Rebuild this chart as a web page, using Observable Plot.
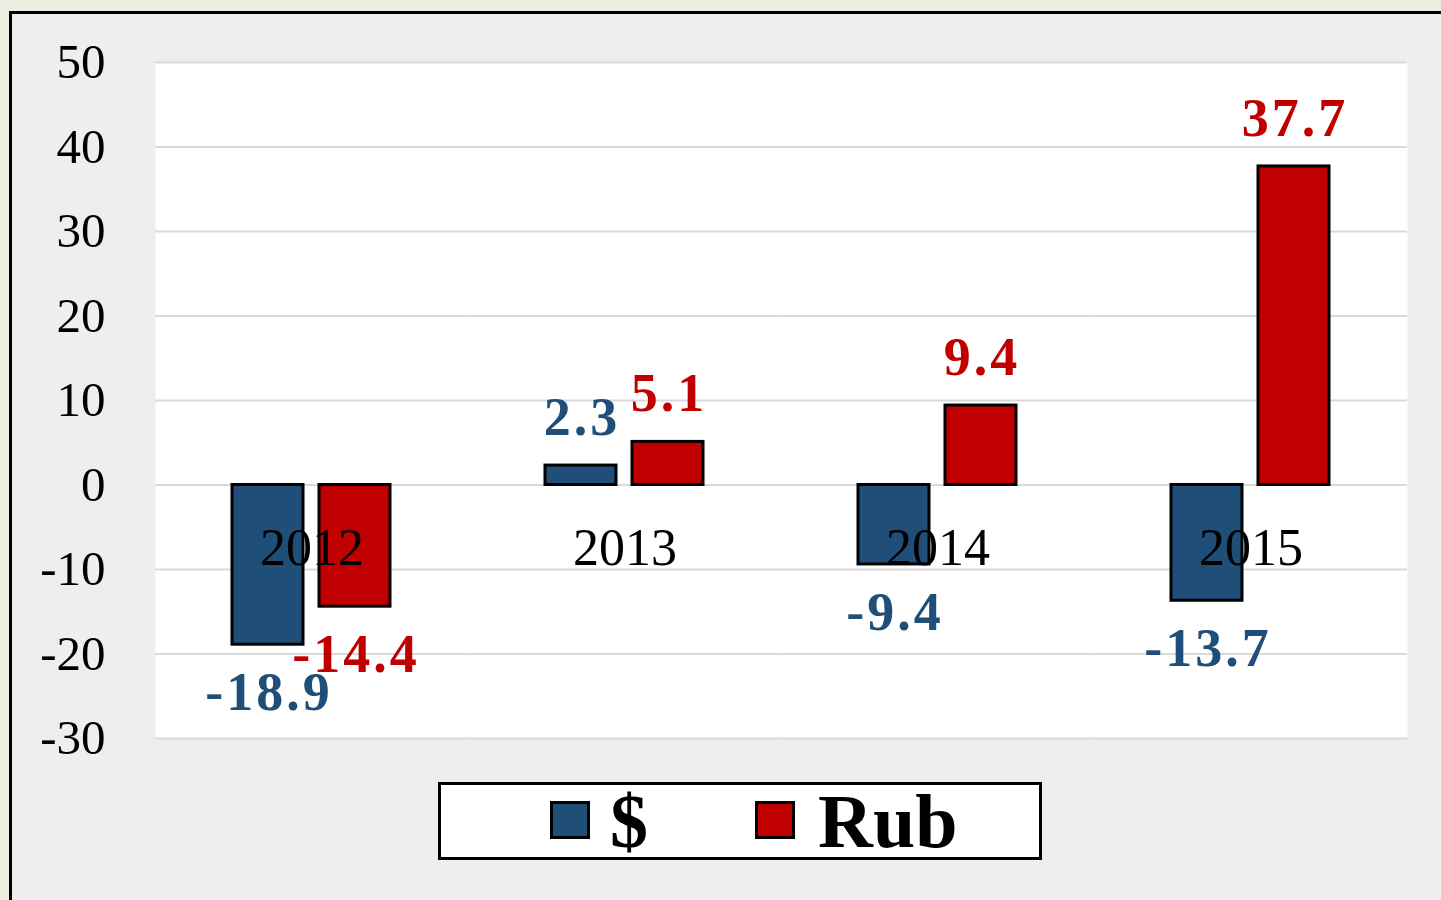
<!DOCTYPE html>
<html>
<head>
<meta charset="utf-8">
<script src="https://cdn.jsdelivr.net/npm/d3@7"></script>
<script src="https://cdn.jsdelivr.net/npm/@observablehq/plot@0.6"></script>
<style>
  html, body { margin: 0; padding: 0; width: 1441px; height: 900px; overflow: hidden; background: #EBEEDF; }
  #frame { position: absolute; left: 9px; top: 11px; width: 1450px; height: 900px; border: 3px solid #000; background: #EEEEEF; box-sizing: border-box; }
  #chart { position: absolute; left: 0; top: 0; }
  #chart g[font-weight="bold"] text { letter-spacing: 3px; }
  #legend { position: absolute; left: 438px; top: 782px; width: 604px; height: 78px; box-sizing: border-box; border: 3px solid #000; background: #fff; font-family: "Liberation Serif", "Times New Roman", serif; font-weight: bold; font-size: 76px; line-height: 1; }
  .sw { position: absolute; top: 16px; width: 40px; height: 38px; box-sizing: border-box; border: 3px solid #000; }
  .lb { position: absolute; top: 0px; line-height: 72px; }
</style>
</head>
<body>
<div id="frame"></div>
<div id="chart"></div>
<div id="legend"></div>
<script>
const years = ["2012", "2013", "2014", "2015"];
const series = ["$", "Rub"];
const usdValues = [-18.9, 2.3, -9.4, -13.7];
const rubValues = [-14.4, 5.1, 9.4, 37.7];
const colors = ["#1F4E79", "#C00000"];
const yTicks = [-30, -20, -10, 0, 10, 20, 30, 40, 50];

const data = [];
years.forEach((y, i) => {
  data.push({year: y, series: "$", value: usdValues[i]});
  data.push({year: y, series: "Rub", value: rubValues[i]});
});

const serif = "'Liberation Serif', 'Times New Roman', serif";

const chart = Plot.plot({
  width: 1441,
  height: 760,
  marginLeft: 155,
  marginRight: 34,
  marginTop: 62,
  marginBottom: 22,
  style: {background: "transparent", fontFamily: serif, overflow: "visible"},
  fx: {domain: years, padding: 0, axis: null},
  x: {domain: series, paddingInner: 0.18, paddingOuter: 0.87, axis: null},
  y: {domain: [-30, 50], axis: null},
  color: {domain: series, range: colors},
  marks: [
    Plot.frame({fill: "white", stroke: null}),
    Plot.ruleY(yTicks, {stroke: "#D9D9D9", strokeWidth: 2}),
    Plot.axisY({facetAnchor: "left", anchor: "left", ticks: yTicks, label: null, tickSize: 0, tickPadding: 50, fontSize: 49, fill: "#000", tickFormat: d => String(d), fontFamily: serif}),
    Plot.barY(data, {fx: "year", x: "series", y: "value", fill: "series", stroke: "#000", strokeWidth: 3}),
    Plot.text(data.filter(d => d.value >= 0), {fx: "year", x: "series", y: "value", text: d => d.value.toFixed(1), fill: "series", dy: -48, dx: 1, lineAnchor: "middle", fontSize: 54, fontWeight: "bold", fontFamily: serif}),
    Plot.text(data.filter(d => d.value < 0), {fx: "year", x: "series", y: "value", text: d => d.value.toFixed(1), fill: "series", dy: 48, dx: 1, lineAnchor: "middle", fontSize: 54, fontWeight: "bold", fontFamily: serif}),
    Plot.text(years, {fx: d => d, y: d => 0, text: d => d, dy: 63, lineAnchor: "middle", fontSize: 52, fill: "#000", fontFamily: serif})
  ]
});
document.getElementById("chart").appendChild(chart);

// Legend (HTML, below the chart)
const legend = document.getElementById("legend");
const swatchLeft = [109, 314];
const labelLeft = [169, 377];
series.forEach((s, i) => {
  const sw = document.createElement("div");
  sw.className = "sw";
  sw.style.left = swatchLeft[i] + "px";
  sw.style.background = colors[i];
  legend.appendChild(sw);
  const lb = document.createElement("div");
  lb.className = "lb";
  lb.style.left = labelLeft[i] + "px";
  lb.textContent = s;
  legend.appendChild(lb);
});
</script>
</body>
</html>
